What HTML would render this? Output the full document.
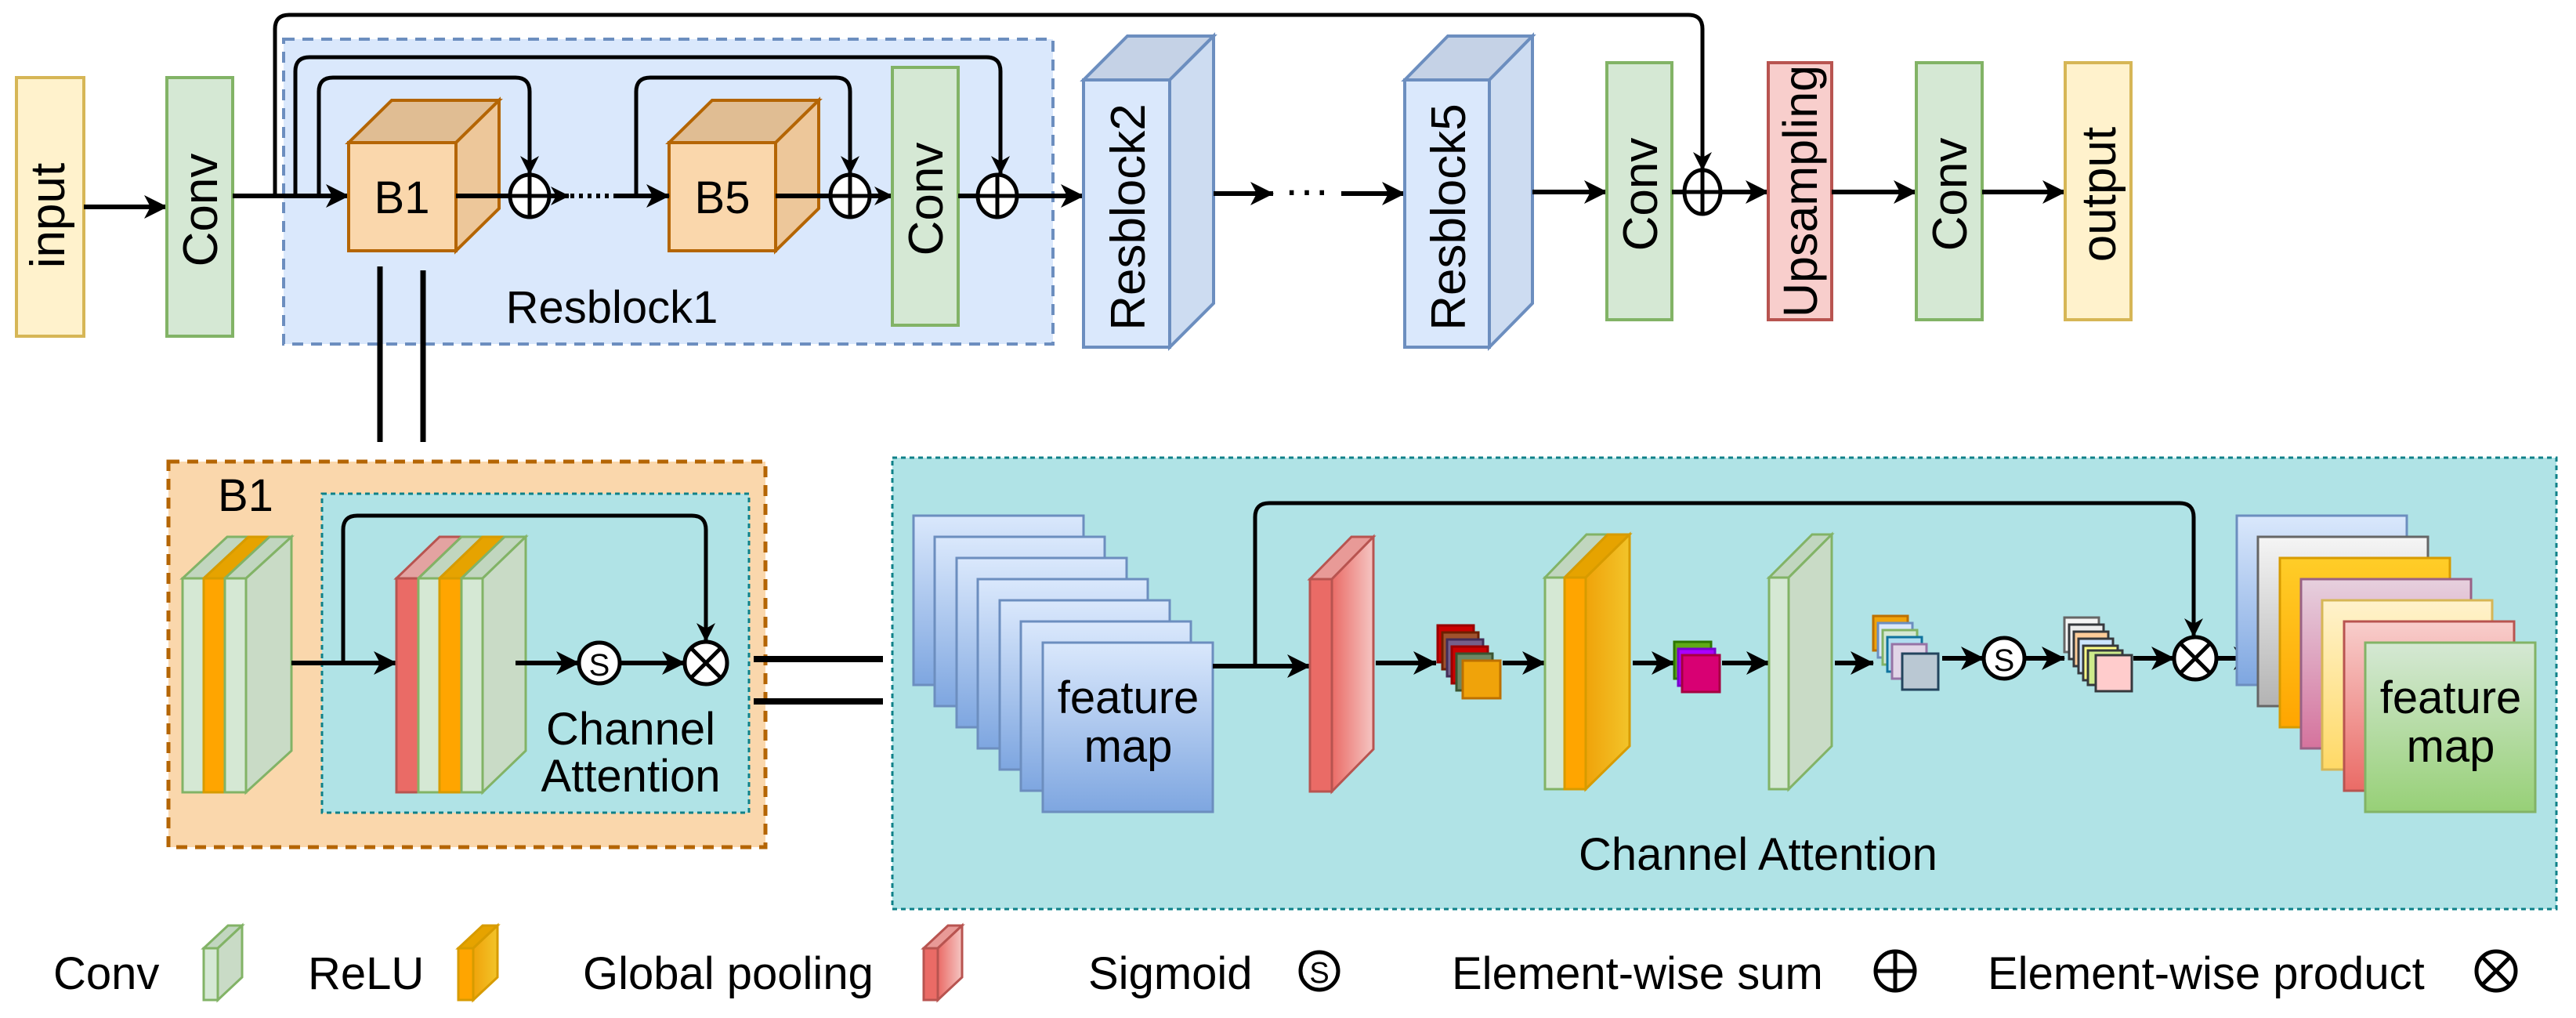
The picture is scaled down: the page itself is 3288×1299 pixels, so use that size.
<!DOCTYPE html>
<html><head><meta charset="utf-8"><style>
html,body{margin:0;padding:0;background:#fff;}
svg{display:block;}
text{font-family:"Liberation Sans",Arial,sans-serif;fill:#000;}
</style></head><body>
<svg width="3288" height="1299" viewBox="0 0 3288 1299" xmlns="http://www.w3.org/2000/svg">
<defs>
<marker id="a" viewBox="0 0 30 30" refX="29" refY="15" markerWidth="30" markerHeight="30" markerUnits="userSpaceOnUse" orient="auto"><path d="M0,0 L30,15 L0,30 L8,15 z" fill="#000"/></marker>
<marker id="s" viewBox="0 0 24 24" refX="23" refY="12" markerWidth="24" markerHeight="24" markerUnits="userSpaceOnUse" orient="auto"><path d="M0,0 L24,12 L0,24 L7,12 z" fill="#000"/></marker>
<linearGradient id="gb" x1="0" y1="0" x2="0" y2="1"><stop offset="0" stop-color="#dae8fc"/><stop offset="1" stop-color="#7ea6e0"/></linearGradient>
<linearGradient id="gw" x1="0" y1="0" x2="0" y2="1"><stop offset="0" stop-color="#f5f5f5"/><stop offset="1" stop-color="#b3b3b3"/></linearGradient>
<linearGradient id="gy" x1="0" y1="0" x2="0" y2="1"><stop offset="0" stop-color="#ffcd28"/><stop offset="1" stop-color="#ffa500"/></linearGradient>
<linearGradient id="gp" x1="0" y1="0" x2="0" y2="1"><stop offset="0" stop-color="#e6d0de"/><stop offset="1" stop-color="#d5739d"/></linearGradient>
<linearGradient id="gc" x1="0" y1="0" x2="0" y2="1"><stop offset="0" stop-color="#fff2cc"/><stop offset="1" stop-color="#ffd966"/></linearGradient>
<linearGradient id="gr" x1="0" y1="0" x2="0" y2="1"><stop offset="0" stop-color="#f8cecc"/><stop offset="1" stop-color="#ea6b66"/></linearGradient>
<linearGradient id="gg" x1="0" y1="0" x2="0" y2="1"><stop offset="0" stop-color="#d5e8d4"/><stop offset="1" stop-color="#97d077"/></linearGradient>
<linearGradient id="hr" x1="0" y1="0" x2="1" y2="0"><stop offset="0" stop-color="#ea6b66"/><stop offset="1" stop-color="#f5c6c3"/></linearGradient>
<linearGradient id="ho" x1="0" y1="0" x2="1" y2="0"><stop offset="0" stop-color="#f0a30a"/><stop offset="1" stop-color="#f2c42a"/></linearGradient>
</defs>

<!-- TOP ROW -->
<rect x="362" y="50" width="982" height="389" fill="#dae8fc" stroke="#6c8ebf" stroke-width="4" stroke-dasharray="14,10"/>
<text x="781" y="412" font-size="58" text-anchor="middle">Resblock1</text>

<rect x="21" y="99" width="86" height="330" fill="#fff2cc" stroke="#d6b656" stroke-width="4"/>
<text transform="translate(82,275) rotate(-90)" font-size="62" text-anchor="middle">input</text>
<line x1="107" y1="264" x2="213" y2="264" stroke="#000" stroke-width="6" marker-end="url(#a)"/>
<rect x="213" y="99" width="84" height="330" fill="#d5e8d4" stroke="#82b366" stroke-width="4"/>
<text transform="translate(277,268) rotate(-90)" font-size="62" text-anchor="middle">Conv</text>

<line x1="297" y1="250" x2="445" y2="250" stroke="#000" stroke-width="6" marker-end="url(#a)"/>
<path d="M351,250 V37 Q351,19 369,19 H2155 Q2173,19 2173,37 V217" fill="none" stroke="#000" stroke-width="5" marker-end="url(#s)"/>
<path d="M377,250 V91 Q377,73 395,73 H1259 Q1277,73 1277,91 V222" fill="none" stroke="#000" stroke-width="5" marker-end="url(#s)"/>
<path d="M407,250 V117 Q407,99 425,99 H658 Q676,99 676,117 V222" fill="none" stroke="#000" stroke-width="5" marker-end="url(#s)"/>
<path d="M812,250 V117 Q812,99 830,99 H1067 Q1085,99 1085,117 V222" fill="none" stroke="#000" stroke-width="5" marker-end="url(#s)"/>

<!-- B1 cube -->
<polygon points="445,182 500,128 637,128 582,182" fill="#e0bd93" stroke="#b46504" stroke-width="4"/>
<polygon points="582,182 637,128 637,266 582,320" fill="#edc79a" stroke="#b46504" stroke-width="4"/>
<rect x="445" y="182" width="137" height="138" fill="#fad7ac" stroke="#b46504" stroke-width="4"/>
<text x="513" y="272" font-size="58" text-anchor="middle">B1</text>
<!-- B5 cube -->
<polygon points="854,182 909,128 1045,128 990,182" fill="#e0bd93" stroke="#b46504" stroke-width="4"/>
<polygon points="990,182 1045,128 1045,266 990,320" fill="#edc79a" stroke="#b46504" stroke-width="4"/>
<rect x="854" y="182" width="136" height="138" fill="#fad7ac" stroke="#b46504" stroke-width="4"/>
<text x="922" y="272" font-size="58" text-anchor="middle">B5</text>

<line x1="582" y1="250" x2="650" y2="250" stroke="#000" stroke-width="6"/>
<line x1="703" y1="250" x2="726" y2="250" stroke="#000" stroke-width="6" marker-end="url(#s)"/>
<line x1="728" y1="250" x2="786" y2="250" stroke="#000" stroke-width="6" stroke-dasharray="5,6"/>
<line x1="786" y1="250" x2="854" y2="250" stroke="#000" stroke-width="6" marker-end="url(#a)"/>
<line x1="990" y1="250" x2="1058" y2="250" stroke="#000" stroke-width="6"/>
<line x1="1112" y1="250" x2="1139" y2="250" stroke="#000" stroke-width="6" marker-end="url(#s)"/>
<rect x="1139" y="86" width="84" height="329" fill="#d5e8d4" stroke="#82b366" stroke-width="4"/>
<text transform="translate(1203,254) rotate(-90)" font-size="62" text-anchor="middle">Conv</text>
<line x1="1223" y1="250" x2="1247" y2="250" stroke="#000" stroke-width="6"/>
<line x1="1300" y1="250" x2="1383" y2="250" stroke="#000" stroke-width="6" marker-end="url(#a)"/>

<g fill="#fff" stroke="#000" stroke-width="5">
<ellipse cx="676" cy="250" rx="25" ry="27"/><line x1="651" y1="250" x2="701" y2="250"/><line x1="676" y1="223" x2="676" y2="277"/>
<ellipse cx="1085" cy="250" rx="25" ry="27"/><line x1="1060" y1="250" x2="1110" y2="250"/><line x1="1085" y1="223" x2="1085" y2="277"/>
<ellipse cx="1273" cy="250" rx="25" ry="27"/><line x1="1248" y1="250" x2="1298" y2="250"/><line x1="1273" y1="223" x2="1273" y2="277"/>
</g>

<!-- Resblock2 -->
<polygon points="1383,102 1439,46 1549,46 1493,102" fill="#c5d2e6" stroke="#6c8ebf" stroke-width="4"/>
<polygon points="1493,102 1549,46 1549,387 1493,443" fill="#cddcf1" stroke="#6c8ebf" stroke-width="4"/>
<rect x="1383" y="102" width="110" height="341" fill="#dae8fc" stroke="#6c8ebf" stroke-width="4"/>
<text transform="translate(1461,277) rotate(-90)" font-size="62" text-anchor="middle">Resblock2</text>
<line x1="1549" y1="247" x2="1625" y2="247" stroke="#000" stroke-width="6" marker-end="url(#a)"/>
<text x="1668" y="262" font-size="58" text-anchor="middle">···</text>
<line x1="1712" y1="247" x2="1793" y2="247" stroke="#000" stroke-width="6" marker-end="url(#a)"/>
<!-- Resblock5 -->
<polygon points="1793,102 1848,46 1956,46 1901,102" fill="#c5d2e6" stroke="#6c8ebf" stroke-width="4"/>
<polygon points="1901,102 1956,46 1956,387 1901,443" fill="#cddcf1" stroke="#6c8ebf" stroke-width="4"/>
<rect x="1793" y="102" width="108" height="341" fill="#dae8fc" stroke="#6c8ebf" stroke-width="4"/>
<text transform="translate(1870,277) rotate(-90)" font-size="62" text-anchor="middle">Resblock5</text>
<line x1="1956" y1="245" x2="2051" y2="245" stroke="#000" stroke-width="6" marker-end="url(#a)"/>
<rect x="2051" y="80" width="83" height="328" fill="#d5e8d4" stroke="#82b366" stroke-width="4"/>
<text transform="translate(2115,248) rotate(-90)" font-size="62" text-anchor="middle">Conv</text>
<line x1="2134" y1="245" x2="2150" y2="245" stroke="#000" stroke-width="6"/>
<g fill="#fff" stroke="#000" stroke-width="5"><ellipse cx="2173" cy="245" rx="23" ry="28"/><line x1="2150" y1="245" x2="2196" y2="245"/><line x1="2173" y1="217" x2="2173" y2="273"/></g>
<line x1="2196" y1="245" x2="2257" y2="245" stroke="#000" stroke-width="6" marker-end="url(#a)"/>
<rect x="2257" y="80" width="81" height="328" fill="#f8cecc" stroke="#b85450" stroke-width="4"/>
<text transform="translate(2319,244) rotate(-90)" font-size="61" text-anchor="middle">Upsampling</text>
<line x1="2338" y1="245" x2="2446" y2="245" stroke="#000" stroke-width="6" marker-end="url(#a)"/>
<rect x="2446" y="80" width="84" height="328" fill="#d5e8d4" stroke="#82b366" stroke-width="4"/>
<text transform="translate(2510,248) rotate(-90)" font-size="62" text-anchor="middle">Conv</text>
<line x1="2530" y1="245" x2="2636" y2="245" stroke="#000" stroke-width="6" marker-end="url(#a)"/>
<rect x="2636" y="80" width="84" height="328" fill="#fff2cc" stroke="#d6b656" stroke-width="4"/>
<text transform="translate(2700,248) rotate(-90)" font-size="62" text-anchor="middle">output</text>

<line x1="485" y1="340" x2="485" y2="564" stroke="#000" stroke-width="7"/>
<line x1="540" y1="345" x2="540" y2="564" stroke="#000" stroke-width="7"/>

<!-- B1 DETAIL -->
<rect x="215" y="589" width="762" height="492" fill="#fad7ac" stroke="#b46504" stroke-width="5" stroke-dasharray="14,10"/>
<text x="278" y="652" font-size="58">B1</text>
<rect x="411" y="630" width="545" height="407" fill="#b0e3e6" stroke="#0e8088" stroke-width="3" stroke-dasharray="6,5"/>
<g stroke="#82b366" stroke-width="3">
<polygon points="233,738 290,685 317,685 260,738" fill="#c1d6bf"/>
<polygon points="260,738 317,685 344,685 287,738" fill="#e6a300" stroke="#d79b00"/>
<polygon points="287,738 344,685 372,685 314,738" fill="#c1d6bf"/>
<polygon points="314,738 372,685 372,958 314,1011" fill="#c9dbc6"/>
<rect x="233" y="738" width="27" height="273" fill="#d5e8d4"/>
<rect x="260" y="738" width="27" height="273" fill="#ffa500" stroke="#d79b00"/>
<rect x="287" y="738" width="27" height="273" fill="#d5e8d4"/>
</g>
<line x1="372" y1="846" x2="506" y2="846" stroke="#000" stroke-width="6" marker-end="url(#a)"/>
<path d="M438,846 V676 Q438,658 456,658 H883 Q901,658 901,676 V818" fill="none" stroke="#000" stroke-width="5" marker-end="url(#s)"/>
<g stroke="#82b366" stroke-width="3">
<polygon points="506,738 561,685 589,685 534,738" fill="#e3a3a1" stroke="#b85450"/>
<polygon points="534,738 589,685 616,685 561,738" fill="#c1d6bf"/>
<polygon points="561,738 616,685 644,685 589,738" fill="#e6a300" stroke="#d79b00"/>
<polygon points="589,738 644,685 671,685 616,738" fill="#c1d6bf"/>
<polygon points="616,738 671,685 671,958 616,1011" fill="#c9dbc6"/>
<rect x="506" y="738" width="28" height="273" fill="#ea6b66" stroke="#b85450"/>
<rect x="534" y="738" width="27" height="273" fill="#d5e8d4"/>
<rect x="561" y="738" width="28" height="273" fill="#ffa500" stroke="#d79b00"/>
<rect x="589" y="738" width="27" height="273" fill="#d5e8d4"/>
</g>
<line x1="658" y1="846" x2="739" y2="846" stroke="#000" stroke-width="6" marker-end="url(#a)"/>
<circle cx="765" cy="846" r="26" fill="#fff" stroke="#000" stroke-width="5"/>
<text x="765" y="862" font-size="40" text-anchor="middle">S</text>
<line x1="791" y1="846" x2="874" y2="846" stroke="#000" stroke-width="6" marker-end="url(#a)"/>
<g fill="#fff" stroke="#000" stroke-width="5"><circle cx="901" cy="846" r="27"/><line x1="882" y1="827" x2="920" y2="865"/><line x1="920" y1="827" x2="882" y2="865"/></g>
<text x="805" y="950" font-size="58" text-anchor="middle">Channel</text>
<text x="805" y="1010" font-size="58" text-anchor="middle">Attention</text>
<line x1="962" y1="841" x2="1127" y2="841" stroke="#000" stroke-width="8"/>
<line x1="962" y1="895" x2="1127" y2="895" stroke="#000" stroke-width="8"/>

<!-- CHANNEL ATTENTION DETAIL -->
<rect x="1139" y="584" width="2124" height="576" fill="#b0e3e6" stroke="#0e8088" stroke-width="3" stroke-dasharray="6,5"/>
<g stroke="#6c8ebf" stroke-width="3" fill="url(#gb)">
<rect x="1166" y="658" width="217" height="216"/>
<rect x="1193" y="685" width="217" height="216"/>
<rect x="1221" y="712" width="217" height="216"/>
<rect x="1248" y="739" width="217" height="216"/>
<rect x="1276" y="766" width="217" height="216"/>
<rect x="1303" y="793" width="217" height="216"/>
<rect x="1331" y="820" width="217" height="216"/>
</g>
<text x="1440" y="910" font-size="58" text-anchor="middle">feature</text>
<text x="1440" y="972" font-size="58" text-anchor="middle">map</text>
<line x1="1548" y1="850" x2="1672" y2="850" stroke="#000" stroke-width="6" marker-end="url(#a)"/>
<path d="M1602,850 V660 Q1602,642 1620,642 H2782 Q2800,642 2800,660 V812" fill="none" stroke="#000" stroke-width="5" marker-end="url(#s)"/>
<polygon points="1672,739 1725,685 1753,685 1700,739" fill="#e89a97" stroke="#b85450" stroke-width="3"/>
<polygon points="1700,739 1753,685 1753,956 1700,1010" fill="url(#hr)" stroke="#b85450" stroke-width="3"/>
<rect x="1672" y="739" width="28" height="271" fill="#ea6b66" stroke="#b85450" stroke-width="3"/>
<line x1="1756" y1="846" x2="1833" y2="846" stroke="#000" stroke-width="6" marker-end="url(#a)"/>
<g stroke-width="3">
<rect x="1835" y="798" width="46" height="47" fill="#cc0000" stroke="#990000"/>
<rect x="1841" y="807" width="46" height="47" fill="#a0522d" stroke="#6d1f00"/>
<rect x="1847" y="816" width="46" height="47" fill="#76608a" stroke="#432d57"/>
<rect x="1853" y="825" width="46" height="47" fill="#cc0000" stroke="#990000"/>
<rect x="1859" y="834" width="46" height="47" fill="#6d8764" stroke="#3a5431"/>
<rect x="1867" y="843" width="48" height="48" fill="#f0a30a" stroke="#bd7000"/>
</g>
<line x1="1918" y1="846" x2="1972" y2="846" stroke="#000" stroke-width="6" marker-end="url(#a)"/>
<polygon points="1972,737 2025,682 2052,682 1997,737" fill="#c1d6bf" stroke="#82b366" stroke-width="3"/>
<polygon points="1997,737 2052,682 2080,682 2024,737" fill="#e6a300" stroke="#d79b00" stroke-width="3"/>
<polygon points="2024,737 2080,682 2080,952 2024,1007" fill="url(#ho)" stroke="#d79b00" stroke-width="3"/>
<rect x="1972" y="737" width="25" height="270" fill="#d5e8d4" stroke="#82b366" stroke-width="3"/>
<rect x="1997" y="737" width="27" height="270" fill="#ffa500" stroke="#d79b00" stroke-width="3"/>
<line x1="2084" y1="846" x2="2137" y2="846" stroke="#000" stroke-width="6" marker-end="url(#a)"/>
<g stroke-width="3">
<rect x="2137" y="819" width="47" height="47" fill="#60a917" stroke="#2d7600"/>
<rect x="2142" y="828" width="47" height="47" fill="#aa00ff" stroke="#7700cc"/>
<rect x="2147" y="836" width="48" height="47" fill="#d80073" stroke="#a50040"/>
</g>
<line x1="2198" y1="846" x2="2258" y2="846" stroke="#000" stroke-width="6" marker-end="url(#a)"/>
<polygon points="2258,737 2313,682 2338,682 2283,737" fill="#c1d6bf" stroke="#82b366" stroke-width="3"/>
<polygon points="2283,737 2338,682 2338,952 2283,1007" fill="#c9dbc6" stroke="#82b366" stroke-width="3"/>
<rect x="2258" y="737" width="25" height="270" fill="#d5e8d4" stroke="#82b366" stroke-width="3"/>
<line x1="2342" y1="846" x2="2391" y2="846" stroke="#000" stroke-width="6" marker-end="url(#a)"/>
<g stroke-width="3">
<rect x="2391" y="786" width="44" height="44" fill="#f0a30a" stroke="#bd7000"/>
<rect x="2397" y="795" width="44" height="44" fill="#dae8fc" stroke="#6c8ebf"/>
<rect x="2403" y="804" width="44" height="44" fill="#d5e8d4" stroke="#82b366"/>
<rect x="2409" y="813" width="44" height="44" fill="#b1ddf0" stroke="#10739e"/>
<rect x="2415" y="822" width="44" height="44" fill="#e1d5e7" stroke="#9673a6"/>
<rect x="2428" y="834" width="46" height="46" fill="#bac8d3" stroke="#23445d"/>
</g>
<line x1="2479" y1="840" x2="2532" y2="840" stroke="#000" stroke-width="6" marker-end="url(#a)"/>
<circle cx="2558" cy="840" r="26" fill="#fff" stroke="#000" stroke-width="5"/>
<text x="2558" y="856" font-size="40" text-anchor="middle">S</text>
<line x1="2584" y1="840" x2="2635" y2="840" stroke="#000" stroke-width="6" marker-end="url(#a)"/>
<g stroke-width="3">
<rect x="2635" y="788" width="44" height="44" fill="#f5f5f5" stroke="#666666"/>
<rect x="2641" y="797" width="44" height="44" fill="#eeeeee" stroke="#36393d"/>
<rect x="2647" y="806" width="44" height="44" fill="#ffcc99" stroke="#36393d"/>
<rect x="2653" y="815" width="44" height="44" fill="#cce5ff" stroke="#36393d"/>
<rect x="2659" y="824" width="44" height="44" fill="#ffff88" stroke="#36393d"/>
<rect x="2665" y="830" width="44" height="44" fill="#cdeb8b" stroke="#36393d"/>
<rect x="2675" y="836" width="46" height="46" fill="#ffcccc" stroke="#36393d"/>
</g>
<line x1="2723" y1="840" x2="2775" y2="840" stroke="#000" stroke-width="6" marker-end="url(#a)"/>
<g fill="#fff" stroke="#000" stroke-width="5"><circle cx="2802" cy="840" r="27"/><line x1="2783" y1="821" x2="2821" y2="859"/><line x1="2821" y1="821" x2="2783" y2="859"/></g>
<line x1="2829" y1="840" x2="2880" y2="840" stroke="#000" stroke-width="6" marker-end="url(#a)"/>
<g stroke-width="3">
<rect x="2855" y="658" width="217" height="216" fill="url(#gb)" stroke="#6c8ebf"/>
<rect x="2882" y="685" width="217" height="216" fill="url(#gw)" stroke="#666666"/>
<rect x="2910" y="712" width="217" height="216" fill="url(#gy)" stroke="#d79b00"/>
<rect x="2937" y="739" width="217" height="216" fill="url(#gp)" stroke="#996185"/>
<rect x="2964" y="766" width="217" height="216" fill="url(#gc)" stroke="#d6b656"/>
<rect x="2992" y="793" width="217" height="216" fill="url(#gr)" stroke="#b85450"/>
<rect x="3019" y="820" width="217" height="216" fill="url(#gg)" stroke="#82b366"/>
</g>
<text x="3128" y="910" font-size="58" text-anchor="middle">feature</text>
<text x="3128" y="972" font-size="58" text-anchor="middle">map</text>
<text x="2244" y="1110" font-size="58" text-anchor="middle">Channel Attention</text>

<!-- LEGEND -->
<text x="68" y="1262" font-size="58">Conv</text>
<polygon points="260,1210 291,1181 309,1181 278,1210" fill="#c1d6bf" stroke="#82b366" stroke-width="3"/>
<polygon points="278,1210 309,1181 309,1247 278,1276" fill="#c9dbc6" stroke="#82b366" stroke-width="3"/>
<rect x="260" y="1210" width="18" height="66" fill="#d5e8d4" stroke="#82b366" stroke-width="3"/>
<text x="393" y="1262" font-size="58">ReLU</text>
<polygon points="585,1210 616,1181 635,1181 604,1210" fill="#e6a300" stroke="#d79b00" stroke-width="3"/>
<polygon points="604,1210 635,1181 635,1247 604,1276" fill="url(#ho)" stroke="#d79b00" stroke-width="3"/>
<rect x="585" y="1210" width="19" height="66" fill="#ffa500" stroke="#d79b00" stroke-width="3"/>
<text x="744" y="1262" font-size="58">Global pooling</text>
<polygon points="1179,1210 1210,1181 1228,1181 1197,1210" fill="#e89a97" stroke="#b85450" stroke-width="3"/>
<polygon points="1197,1210 1228,1181 1228,1247 1197,1276" fill="url(#hr)" stroke="#b85450" stroke-width="3"/>
<rect x="1179" y="1210" width="18" height="66" fill="#ea6b66" stroke="#b85450" stroke-width="3"/>
<text x="1389" y="1262" font-size="58">Sigmoid</text>
<circle cx="1684" cy="1239" r="24" fill="#fff" stroke="#000" stroke-width="5"/>
<text x="1684" y="1254" font-size="38" text-anchor="middle">S</text>
<text x="1853" y="1262" font-size="58">Element-wise sum</text>
<g fill="#fff" stroke="#000" stroke-width="5"><circle cx="2419" cy="1239" r="25"/><line x1="2394" y1="1239" x2="2444" y2="1239"/><line x1="2419" y1="1214" x2="2419" y2="1264"/></g>
<text x="2537" y="1262" font-size="58">Element-wise product</text>
<g fill="#fff" stroke="#000" stroke-width="5"><circle cx="3186" cy="1239" r="25"/><line x1="3168" y1="1221" x2="3204" y2="1257"/><line x1="3204" y1="1221" x2="3168" y2="1257"/></g>
</svg>
</body></html>
